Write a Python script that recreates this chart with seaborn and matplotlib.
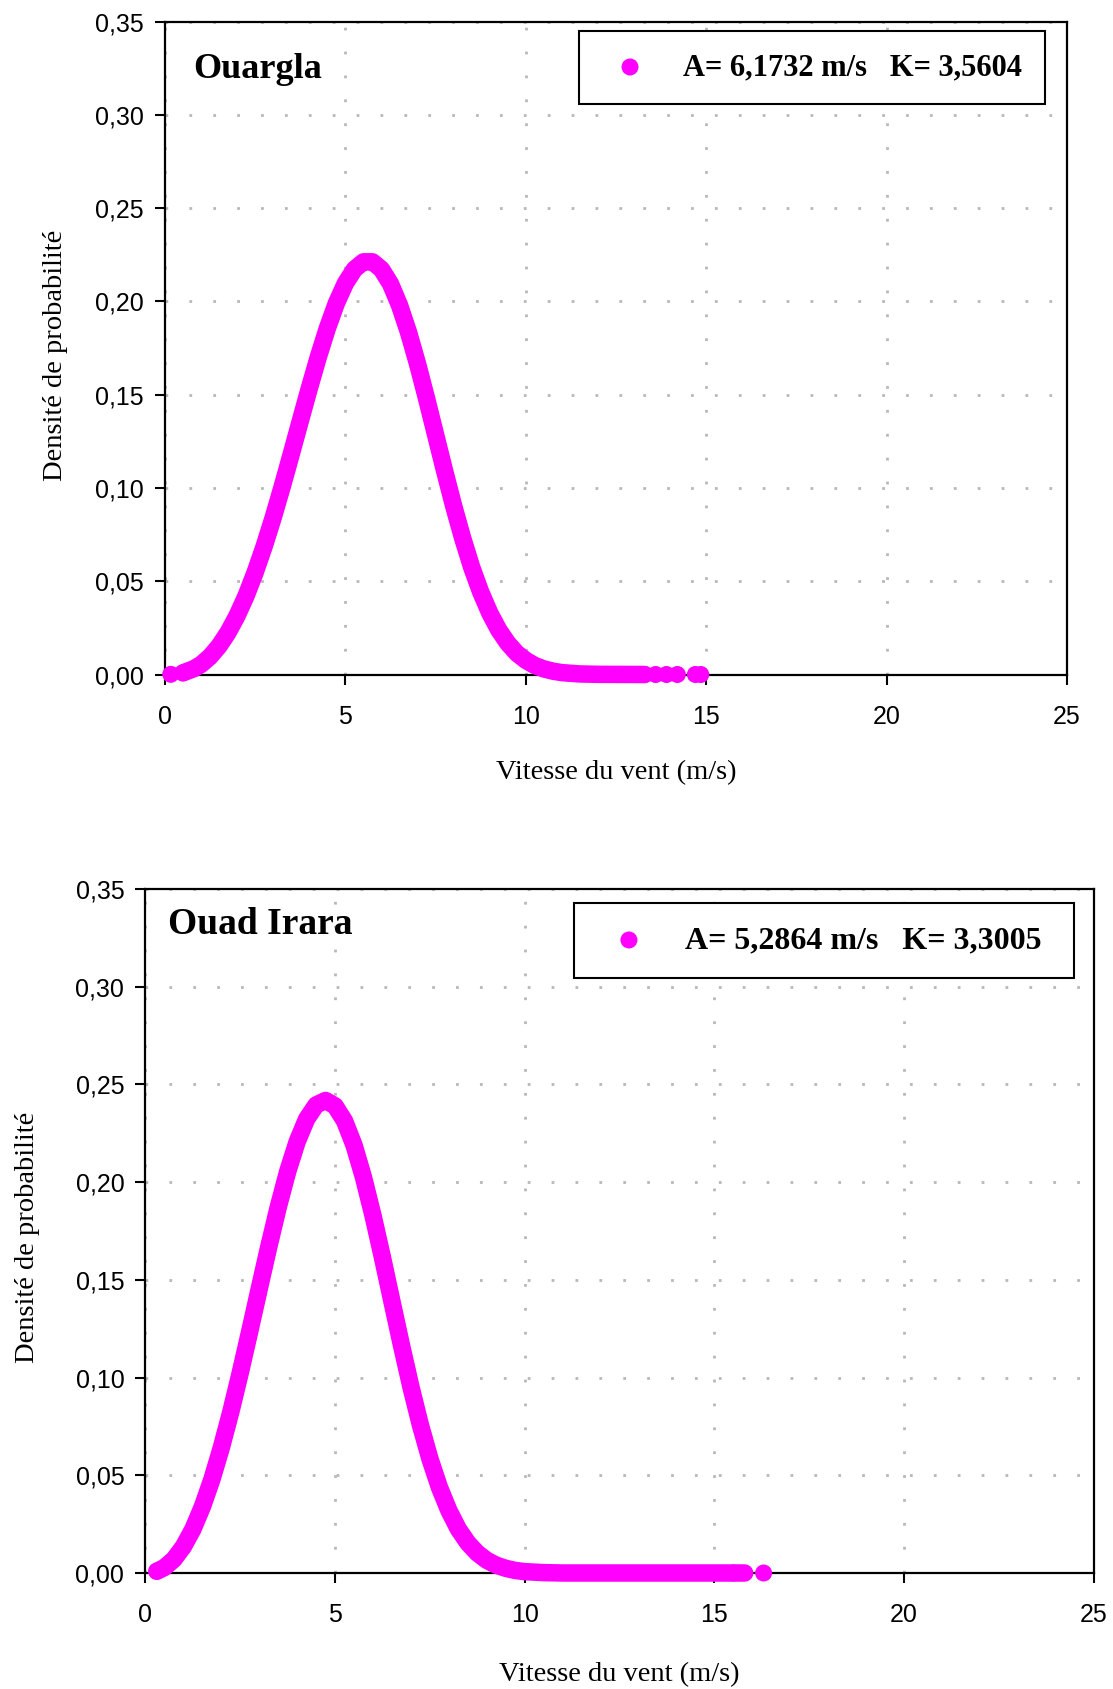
import matplotlib
matplotlib.use("Agg")
import matplotlib.pyplot as plt
import seaborn as sns

# ---------------- data ----------------
ouargla_speed = [0.5, 0.8, 1.0, 1.25, 1.5, 1.75, 2.0, 2.25, 2.5, 2.75, 3.0, 3.25, 3.5, 3.75, 4.0,
                 4.25, 4.5, 4.75, 5.0, 5.25, 5.5, 5.75, 6.0, 6.25, 6.5, 6.75, 7.0, 7.25, 7.5, 7.75,
                 8.0, 8.25, 8.5, 8.75, 9.0, 9.25, 9.5, 9.75, 10.0, 10.25, 10.5, 10.75, 11.0, 11.5,
                 12.0, 13.3]
ouargla_density = [0.0009, 0.0031, 0.0054, 0.0096, 0.0153, 0.0226, 0.0316, 0.0423, 0.0548, 0.0688,
                   0.0842, 0.1008, 0.1182, 0.1359, 0.1534, 0.1702, 0.1856, 0.1990, 0.2097, 0.2172,
                   0.2212, 0.2212, 0.2172, 0.2094, 0.1979, 0.1834, 0.1665, 0.1479, 0.1285, 0.1091,
                   0.0904, 0.0731, 0.0575, 0.0442, 0.0330, 0.0239, 0.0168, 0.0114, 0.0076, 0.0048,
                   0.0030, 0.0018, 0.0010, 0.0003, 0.0001, 0.0000]
ouargla_iso_speed = [0.16, 0.5, 13.6, 13.9, 14.2, 14.7, 14.85]
ouargla_iso_density = [0.0001, 0.0009, 0.0, 0.0, 0.0, 0.0, 0.0]

irara_speed = [0.3, 0.5, 0.75, 1.0, 1.25, 1.5, 1.75, 2.0, 2.25, 2.5, 2.75, 3.0, 3.25, 3.5, 3.75,
               4.0, 4.25, 4.5, 4.75, 5.0, 5.25, 5.5, 5.75, 6.0, 6.25, 6.5, 6.75, 7.0, 7.25, 7.5,
               7.75, 8.0, 8.25, 8.5, 8.75, 9.0, 9.25, 9.5, 9.75, 10.0, 10.5, 11.0, 15.8]
irara_density = [0.0009, 0.0028, 0.0070, 0.0135, 0.0224, 0.0339, 0.0478, 0.0641, 0.0824, 0.1025,
                 0.1237, 0.1454, 0.1668, 0.1871, 0.2054, 0.2207, 0.2323, 0.2395, 0.2418, 0.2390,
                 0.2313, 0.2189, 0.2024, 0.1829, 0.1614, 0.1389, 0.1166, 0.0952, 0.0757, 0.0585,
                 0.0439, 0.0320, 0.0225, 0.0154, 0.0102, 0.0065, 0.0040, 0.0024, 0.0013, 0.0007,
                 0.0002, 0.0, 0.0]
irara_iso_speed = [0.3, 15.5, 16.3]
irara_iso_density = [0.0009, 0.0, 0.0]

x_ticks = [0, 5, 10, 15, 20, 25]
x_tick_labels = ["0", "5", "10", "15", "20", "25"]
y_ticks = [0.00, 0.05, 0.10, 0.15, 0.20, 0.25, 0.30, 0.35]
y_tick_labels = ["0,00", "0,05", "0,10", "0,15", "0,20", "0,25", "0,30", "0,35"]

titles = ["Ouargla", "Ouad Irara"]
legend_labels = ["A= 6,1732 m/s   K= 3,5604", "A= 5,2864 m/s   K= 3,3005"]
x_label = "Vitesse du vent (m/s)"
y_label = "Densité de probabilité"

# ---------------- style ----------------
sns.set_theme(style="white")
plt.rcParams["font.family"] = ["Liberation Sans", "DejaVu Sans"]

MAGENTA = "#FF00FF"
SERIF = "Liberation Serif"
W, H = 1113, 1689

fig = plt.figure(figsize=(11.13, 16.89), dpi=100)
ax1 = fig.add_axes([0.14825, 0.60065, 0.8104, 0.3866])
ax2 = fig.add_axes([0.1307, 0.06868, 0.8518, 0.40497])

panels = [
    dict(ax=ax1, sx=ouargla_speed, sy=ouargla_density, ix=ouargla_iso_speed, iy=ouargla_iso_density,
         title=titles[0], leg=legend_labels[0], title_xy=(0.031, 0.914), title_fs=26,
         ylab_xy=(-0.121, 0.489), xlab_xy=(0.5, -0.1496),
         leg_box=(579 / W, 1 - 104.5 / H, 466 / W, 73.5 / H), leg_fs=22,
         leg_hl=1.9, leg_htp=0.78),
    dict(ax=ax2, sx=irara_speed, sy=irara_density, ix=irara_iso_speed, iy=irara_iso_density,
         title=titles[1], leg=legend_labels[1], title_xy=(0.0237, 0.934), title_fs=27,
         ylab_xy=(-0.124, 0.4905), xlab_xy=(0.5, -0.148),
         leg_box=(574 / W, 1 - 979 / H, 500 / W, 76 / H), leg_fs=23,
         leg_hl=2.0, leg_htp=0.75),
]

for p in panels:
    ax = p["ax"]
    ax.set_xlim(0, 25)
    ax.set_ylim(0, 0.35)
    ax.set_xticks(x_ticks)
    ax.set_xticklabels(x_tick_labels)
    ax.set_yticks(y_ticks)
    ax.set_yticklabels(y_tick_labels)
    ax.tick_params(axis="both", which="major", direction="out", length=7.2, width=1.5,
                   color="black", labelsize=18, labelcolor="black",
                   bottom=True, left=True, top=False, right=False)
    ax.tick_params(axis="y", pad=8)
    ax.tick_params(axis="x", pad=14.5)
    for s in ax.spines.values():
        s.set_visible(True)
        s.set_color("black")
        s.set_linewidth(1.6)
    ax.set_facecolor("white")
    ax.grid(True, which="major", color="#b8b8b8", linewidth=2.0, linestyle=(0, (1, 7.6)))
    ax.set_axisbelow(True)

    sns.lineplot(x=p["sx"], y=p["sy"], ax=ax, color=MAGENTA, linewidth=12.6, sort=False,
                 legend=False, estimator=None, solid_capstyle="round", solid_joinstyle="round",
                 clip_on=False, zorder=3)
    sns.scatterplot(x=p["ix"], y=p["iy"], ax=ax, color=MAGENTA, s=150, edgecolor="none",
                    label=p["leg"], clip_on=False, zorder=4)

    ax.text(p["title_xy"][0], p["title_xy"][1], p["title"], transform=ax.transAxes,
            fontfamily=SERIF, fontweight="bold", fontsize=p["title_fs"], va="baseline", ha="left",
            color="black")

    ax.set_xlabel(x_label, fontfamily=SERIF, fontsize=20.5, color="black")
    ax.set_ylabel(y_label, fontfamily=SERIF, fontsize=20.5, color="black")
    ax.xaxis.set_label_coords(*p["xlab_xy"])
    ax.yaxis.set_label_coords(*p["ylab_xy"])
    ax.xaxis.label.set_va("center")
    ax.yaxis.label.set_va("center")

    leg = ax.legend(loc="upper left", bbox_to_anchor=p["leg_box"], bbox_transform=fig.transFigure,
                    mode="expand", borderaxespad=0, frameon=True, fancybox=False, framealpha=1,
                    edgecolor="black", borderpad=0.72, handlelength=p["leg_hl"],
                    handletextpad=p["leg_htp"], markerscale=1.0,
                    prop={"family": SERIF, "weight": "bold", "size": p["leg_fs"]})
    leg.get_frame().set_linewidth(1.5)
    for t in leg.get_texts():
        t.set_color("black")

fig.savefig("out.png", dpi=100, facecolor="white")
